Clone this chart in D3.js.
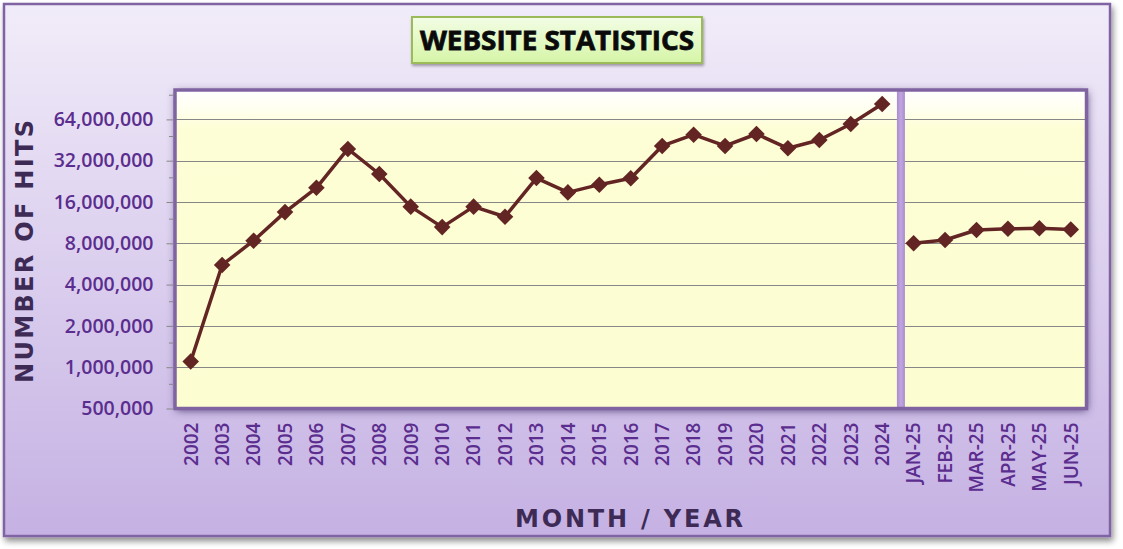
<!DOCTYPE html>
<html>
<head>
<meta charset="utf-8">
<script src="https://cdn.jsdelivr.net/npm/d3@7"></script>
<style>
  html, body { margin: 0; padding: 0; background: #ffffff; }
  svg { display: block; }
</style>
</head>
<body>
<svg id="chart" width="1123" height="549"></svg>
<script>
// ---------- DATA ----------
const years = ["2002","2003","2004","2005","2006","2007","2008","2009","2010","2011","2012",
               "2013","2014","2015","2016","2017","2018","2019","2020","2021","2022","2023","2024"];
const yearHits = [1100000, 5560000, 8360000, 13500000, 20300000, 39000000, 25600000, 14800000,
                  10500000, 14800000, 12500000, 23900000, 18800000, 21400000, 23800000, 41000000,
                  49500000, 41000000, 50100000, 39400000, 45300000, 59300000, 82900000];
const months = ["JAN-25","FEB-25","MAR-25","APR-25","MAY-25","JUN-25"];
const monthHits = [8000000, 8460000, 10000000, 10200000, 10300000, 10100000];
const yTicks = [500000, 1000000, 2000000, 4000000, 8000000, 16000000, 32000000, 64000000];
const titleText = "WEBSITE STATISTICS";
const yTitle = "NUMBER OF HITS";
const xTitle = "MONTH / YEAR";

// ---------- LAYOUT ----------
const plot = { left: 175, right: 1086.5, top: 90, bottom: 408.5 };
const svg = d3.select("#chart");
const defs = svg.append("defs");

const bgGrad = defs.append("linearGradient").attr("id","bgGrad").attr("x1",0).attr("y1",0).attr("x2",0).attr("y2",1);
bgGrad.append("stop").attr("offset","0%").attr("stop-color","#f1ecf9");
bgGrad.append("stop").attr("offset","100%").attr("stop-color","#c5b1e3");

const titleGrad = defs.append("linearGradient").attr("id","titleGrad").attr("x1",0).attr("y1",0).attr("x2",0).attr("y2",1);
titleGrad.append("stop").attr("offset","0%").attr("stop-color","#f3fde6");
titleGrad.append("stop").attr("offset","100%").attr("stop-color","#d5f5a6");

const plotGrad = defs.append("linearGradient").attr("id","plotGrad").attr("x1",0).attr("y1",0).attr("x2",0).attr("y2",1);
plotGrad.append("stop").attr("offset","0%").attr("stop-color","#ffffff");
plotGrad.append("stop").attr("offset","6%").attr("stop-color","#fffff0");
plotGrad.append("stop").attr("offset","12%").attr("stop-color","#fefed6");
plotGrad.append("stop").attr("offset","100%").attr("stop-color","#fdfdd2");

const divGrad = defs.append("linearGradient").attr("id","divGrad").attr("x1",0).attr("y1",0).attr("x2",1).attr("y2",0);
divGrad.append("stop").attr("offset","0%").attr("stop-color","#a98cd0");
divGrad.append("stop").attr("offset","50%").attr("stop-color","#c1a6df");
divGrad.append("stop").attr("offset","100%").attr("stop-color","#a98cd0");

const sh = defs.append("filter").attr("id","shadow").attr("x","-10%").attr("y","-10%").attr("width","120%").attr("height","130%");
sh.append("feGaussianBlur").attr("in","SourceAlpha").attr("stdDeviation",3);
sh.append("feOffset").attr("dx",2).attr("dy",4).attr("result","ob");
sh.append("feComponentTransfer").append("feFuncA").attr("type","linear").attr("slope",0.45);
const m1 = sh.append("feMerge"); m1.append("feMergeNode"); m1.append("feMergeNode").attr("in","SourceGraphic");

const psh = defs.append("filter").attr("id","pshadow").attr("x","-5%").attr("y","-10%").attr("width","110%").attr("height","125%");
psh.append("feGaussianBlur").attr("in","SourceAlpha").attr("stdDeviation",4.5);
psh.append("feOffset").attr("dx",1).attr("dy",2).attr("result","ob");
psh.append("feFlood").attr("flood-color","#4a3a70").attr("flood-opacity",0.9);
psh.append("feComposite").attr("in2","ob").attr("operator","in");
const m2 = psh.append("feMerge"); m2.append("feMergeNode"); m2.append("feMergeNode").attr("in","SourceGraphic");

const tsh = defs.append("filter").attr("id","tshadow").attr("x","-5%").attr("y","-20%").attr("width","110%").attr("height","150%");
tsh.append("feGaussianBlur").attr("in","SourceAlpha").attr("stdDeviation",1.5);
tsh.append("feOffset").attr("dx",1).attr("dy",2).attr("result","ob");
tsh.append("feComponentTransfer").append("feFuncA").attr("type","linear").attr("slope",0.35);
const m3 = tsh.append("feMerge"); m3.append("feMergeNode"); m3.append("feMergeNode").attr("in","SourceGraphic");

// chart background
svg.append("rect").attr("x",4).attr("y",4).attr("width",1106).attr("height",532)
  .attr("fill","url(#bgGrad)").attr("stroke","#8064a2").attr("stroke-width",2.5)
  .attr("filter","url(#shadow)");

// title box
svg.append("rect").attr("x",412).attr("y",17).attr("width",290).attr("height",46)
  .attr("fill","url(#titleGrad)").attr("stroke","#9bbb59").attr("stroke-width",2)
  .attr("filter","url(#tshadow)");
svg.append("text").attr("x",557).attr("y",50).attr("text-anchor","middle")
  .attr("font-family","'Open Sans', sans-serif").attr("font-weight",700).attr("font-size",26)
  .attr("textLength",274).attr("lengthAdjust","spacingAndGlyphs")
  .attr("fill","#0a0a0a").style("paint-order","stroke").attr("stroke","#222").attr("stroke-width",0.8)
  .text(titleText);

// ---------- SCALES ----------
const cats = years.concat(months);
const x = d3.scaleBand().domain(cats).range([plot.left, plot.right]).paddingInner(0).paddingOuter(0);
const perDoubling = 41.3;
const yMax = 500000 * Math.pow(2, (plot.bottom - plot.top) / perDoubling);
const y = d3.scaleLog().base(2).domain([500000, yMax]).range([plot.bottom, plot.top]);
const cx = d => x(d) + x.bandwidth() / 2;

// plot area
svg.append("rect").attr("x",plot.left).attr("y",plot.top)
  .attr("width",plot.right-plot.left).attr("height",plot.bottom-plot.top)
  .attr("fill","url(#plotGrad)").attr("filter","url(#pshadow)");

// gridlines
svg.append("g").selectAll("line").data(yTicks.slice(1)).join("line")
  .attr("x1",plot.left).attr("x2",plot.right)
  .attr("y1",d=>Math.round(y(d))+0.5).attr("y2",d=>Math.round(y(d))+0.5)
  .attr("stroke","#878787").attr("stroke-width",1);

// divider between yearly and monthly data
svg.append("rect").attr("x", x(months[0]) - 1).attr("y", plot.top)
  .attr("width", 8).attr("height", plot.bottom - plot.top)
  .attr("fill","url(#divGrad)");

// plot frame
svg.append("rect").attr("x",plot.left).attr("y",plot.top)
  .attr("width",plot.right-plot.left).attr("height",plot.bottom-plot.top)
  .attr("fill","none").attr("stroke","#8064a2").attr("stroke-width",3.5);

// y axis
const yAxis = d3.axisLeft(y).tickValues(yTicks).tickFormat(d3.format(",")).tickSize(7).tickPadding(13);
const yg = svg.append("g").attr("transform",`translate(${plot.left - 1.5},0)`).call(yAxis);
yg.select(".domain").remove();
yg.selectAll(".tick line").attr("stroke","#878787");
yg.selectAll(".tick text").attr("font-family","'Open Sans', sans-serif").attr("font-size",19.5)
  .attr("font-weight",600).attr("fill","#5b2d8e");
const minor = yTicks.map(d => d * 1.5);
svg.append("g").selectAll("line").data(minor).join("line")
  .attr("x1",plot.left-6).attr("x2",plot.left-1.5)
  .attr("y1",d=>y(d)).attr("y2",d=>y(d)).attr("stroke","#878787");

// x axis
const xAxis = d3.axisBottom(x).tickSize(0);
const xg = svg.append("g").attr("transform",`translate(0,${plot.bottom})`).call(xAxis);
xg.select(".domain").remove();
xg.selectAll(".tick text")
  .attr("transform","rotate(-90)").attr("x",-14).attr("y",0).attr("dy","0.36em")
  .style("text-anchor","end")
  .attr("font-family","'Open Sans', sans-serif").attr("font-size",19)
  .attr("font-weight",600).attr("fill","#5b2d8e");

// axis titles
svg.append("text").attr("transform",`translate(33,251.5) rotate(-90)`)
  .attr("text-anchor","middle").attr("font-family","'DejaVu Sans', sans-serif")
  .attr("font-weight",900).attr("font-size",24).attr("fill","#3d2b56")
  .attr("textLength",263).attr("lengthAdjust","spacing")
  .text(yTitle);
svg.append("text").attr("x",629).attr("y",527)
  .attr("text-anchor","middle").attr("font-family","'DejaVu Sans', sans-serif")
  .attr("font-weight",900).attr("font-size",24).attr("fill","#3d2b56")
  .attr("textLength",228).attr("lengthAdjust","spacing")
  .text(xTitle);

// ---------- SERIES ----------
const lineColor = "#632523";
const line = d3.line().x(d => cx(d[0])).y(d => y(d[1]));
const series1 = years.map((c,i) => [c, yearHits[i]]);
const series2 = months.map((c,i) => [c, monthHits[i]]);
[series1, series2].forEach(s => {
  svg.append("path").datum(s).attr("d", line).attr("fill","none")
    .attr("stroke",lineColor).attr("stroke-width",3.5).attr("stroke-linejoin","round");
  svg.append("g").selectAll("path").data(s).join("path")
    .attr("d", d3.symbol().type(d3.symbolDiamond2).size(175)())
    .attr("transform", d => `translate(${cx(d[0])},${y(d[1])})`)
    .attr("fill", lineColor);
});
</script>
</body>
</html>
